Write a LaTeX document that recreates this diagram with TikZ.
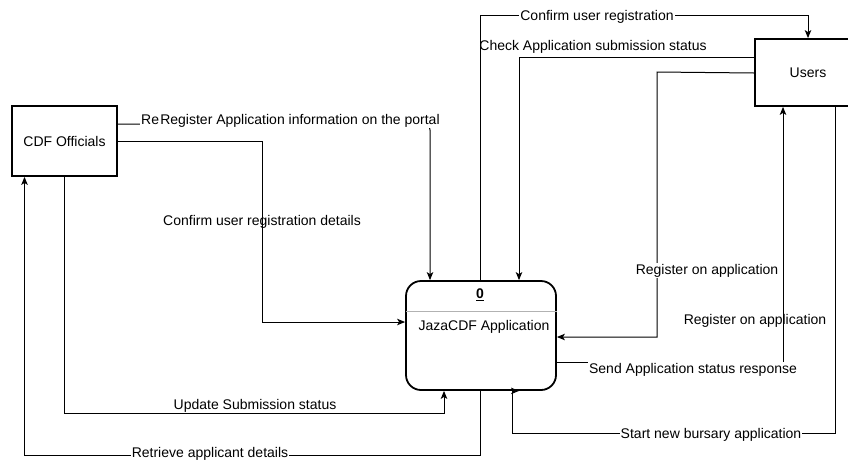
\documentclass[tikz,border=0pt]{standalone}
\usepackage{fontspec}
\setmainfont{Liberation Sans}
\usetikzlibrary{arrows.meta}
\begin{document}
\begin{tikzpicture}[x=1pt,y=-1pt,
  font=\fontsize{14}{16}\selectfont,
  entity/.style={draw,line width=1.8pt,rectangle,inner sep=0pt},
  line/.style={draw,line width=1pt,color=black},
  flow/.style={line,-{Stealth[length=8pt,width=6.5pt,inset=2pt]}},
  lbl/.style={inner sep=1pt,text=black,yshift=-1.5pt},
  lblw/.style={lbl,fill=white}]
\useasboundingbox (0,0) rectangle (848,464);
% nodes
\node[entity,minimum width=105pt,minimum height=70pt] (cdf) at (64.5,141) {CDF Officials};
\node[entity,minimum width=106pt,minimum height=67pt] (users) at (808,72.5) {Users};
\node[entity,rounded corners=15pt,minimum width=150pt,minimum height=109pt] (app) at (481,335.5) {};
\draw[black!30,line width=1pt] ([yshift=-31pt]app.north west) ++(1,0) -- ([yshift=-31pt]app.north east) ++(-1,0);
\node[font=\fontsize{14}{16}\selectfont\bfseries] (num) at (480,295) {\underline{0}};
\node (appname) at (484,327) {JazaCDF Application};
% connectors
\draw[flow,rounded corners=6pt] ([yshift=17pt]cdf.east) -| ([xshift=-51pt]app.north);
\draw[flow] (cdf.east) -- (262,141) -- (262,322) -- ([yshift=13.5pt]app.west);
\draw[flow] ([xshift=-0.5pt]cdf.south) |- (444,413) -- ([xshift=-37pt]app.south);
\draw[flow] ([xshift=-1pt]app.south) |- (24.5,455) -- ([xshift=-40pt]cdf.south);
\draw[flow] ([xshift=-1pt]app.north) |- (808,15) -- (users.north);
\draw[flow] ([yshift=15.5pt]users.west) -| ([xshift=38pt]app.north);
\draw[flow] ([yshift=-0.5pt]users.west) -- (657,72) -- (657,337) -- ([yshift=-1.5pt]app.east);
\draw[flow] ([yshift=-27pt]app.east) -- (783,362.5) -- ([xshift=-25pt]users.south);
\draw[line] ([xshift=27pt]users.south) |- (512,433) -- ([xshift=31pt]app.south);
\draw[flow] ([xshift=29pt]app.south) -- ([xshift=38pt]app.south);
% labels
\node[lblw,anchor=west] (l0) at (140,119) {Register};
\node[lblw] (l1) at (300,119) {Register Application information on the portal};
\node[lbl] (l2) at (262,220) {Confirm user registration details};
\node[lbl] (l3) at (255,404) {Update Submission status};
\node[lblw] (l4) at (210,452) {Retrieve applicant details};
\node[lblw] (l5) at (597,15) {Confirm user registration};
\node[lbl] (l6) at (593,45) {Check Application submission status};
\node[lblw] (l7) at (707,269) {Register on application};
\node[lbl] (l8) at (755,319) {Register on application};
\node[lblw] (l9) at (693,368) {Send Application status response};
\node[lblw] (l10) at (711,433) {Start new bursary application};
\end{tikzpicture}
\end{document}
